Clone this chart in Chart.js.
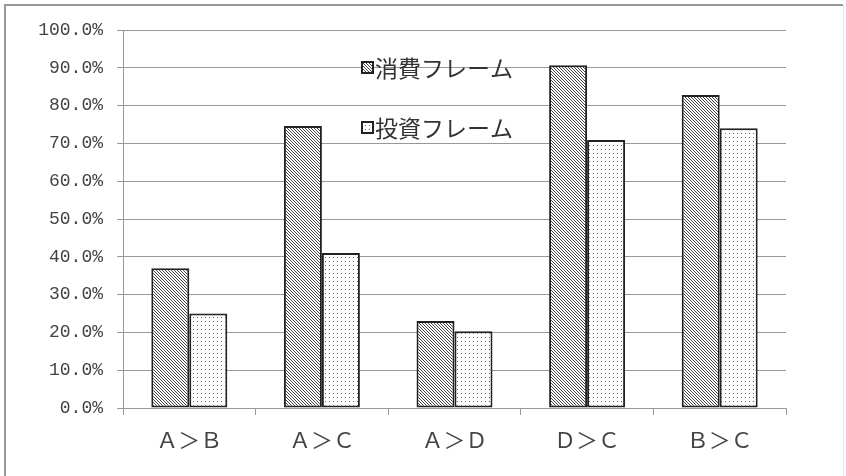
<!DOCTYPE html>
<html>
<head>
<meta charset="utf-8">
<script src="https://cdn.jsdelivr.net/npm/chart.js@4"></script>
<style>
  html, body { margin: 0; padding: 0; background: #fff; }
  #wrap { width: 846px; height: 476px; position: relative; }
</style>
</head>
<body>
<div id="wrap"><canvas id="grafico" width="846" height="476"></canvas></div>
<script>
const categorias = ["Ａ＞Ｂ", "Ａ＞Ｃ", "Ａ＞Ｄ", "Ｄ＞Ｃ", "Ｂ＞Ｃ"];
const nomesSeries = ["消費フレーム", "投資フレーム"];
const consumo = [37.0, 74.6, 23.0, 90.7, 82.8];
const investimento = [25.0, 41.0, 20.3, 70.9, 74.0];

function padraoHachura() {
    const c = document.createElement("canvas");
    c.width = 6; c.height = 6;
    const g = c.getContext("2d");
    g.fillStyle = "#fff";
    g.fillRect(0, 0, 6, 6);
    g.fillStyle = "#444";
    for (let y = 0; y < 6; y++) {
        for (let x = 0; x < 6; x++) {
            if ((x - y + 6) % 3 === 0) g.fillRect(x, y, 1, 1);
        }
    }
    return g.createPattern(c, "repeat");
}

function padraoPontos() {
    const c = document.createElement("canvas");
    c.width = 4; c.height = 4;
    const g = c.getContext("2d");
    g.fillStyle = "#fff";
    g.fillRect(0, 0, 4, 4);
    g.fillStyle = "#666";
    g.fillRect(1, 1, 1, 1);
    return g.createPattern(c, "repeat");
}

const hachura = padraoHachura();
const pontos = padraoPontos();

// moldura e legenda dentro da área do gráfico
const molduraPlugin = {
    id: 'moldura',
    beforeDraw(chart) {
        const { ctx } = chart;
        ctx.save();
        ctx.fillStyle = '#fff';
        ctx.fillRect(0, 0, chart.width, chart.height);
        ctx.strokeStyle = '#999';
        ctx.lineWidth = 2;
        ctx.beginPath();
        ctx.moveTo(5, 480);
        ctx.lineTo(5, 5);
        ctx.lineTo(843, 5);
        ctx.stroke();
        ctx.strokeStyle = '#e4e4e4';
        ctx.lineWidth = 1;
        ctx.beginPath();
        ctx.moveTo(843.5, 5);
        ctx.lineTo(843.5, 480);
        ctx.stroke();
        ctx.restore();
    }
};

const legendaPlugin = {
    id: 'legendaInterna',
    afterDraw(chart) {
        const { ctx } = chart;
        ctx.save();
        ctx.font = '23px "Noto Sans CJK JP"';
        ctx.textBaseline = 'middle';
        chart.data.datasets.forEach((ds, i) => {
            const y = 68 + i * 60;
            ctx.fillStyle = ds.backgroundColor;
            ctx.fillRect(362, y - 6, 11, 11);
            ctx.strokeStyle = '#222';
            ctx.lineWidth = 2;
            ctx.strokeRect(362, y - 6, 11, 11);
            ctx.fillStyle = '#333';
            ctx.fillText(ds.label, 375, y);
        });
        ctx.restore();
    }
};

new Chart(document.getElementById("grafico"), {
    type: "bar",
    data: {
        labels: categorias,
        datasets: [
            {
                label: nomesSeries[0],
                data: consumo,
                backgroundColor: hachura,
                borderColor: "#222",
                borderWidth: 2,
                borderSkipped: false
            },
            {
                label: nomesSeries[1],
                data: investimento,
                backgroundColor: pontos,
                borderColor: "#222",
                borderWidth: 2,
                borderSkipped: false
            }
        ]
    },
    options: {
        responsive: false,
        animation: false,
        layout: { padding: { top: 30, right: 60, left: 0, bottom: 0 } },
        datasets: { bar: { categoryPercentage: 0.573, barPercentage: 1.0 } },
        scales: {
            x: {
                afterFit(scale) { scale.height = 68; },
                grid: {
                    offset: true,
                    drawOnChartArea: false,
                    drawTicks: true,
                    tickLength: 7,
                    color: "#999"
                },
                border: { color: "#999", width: 1 },
                ticks: {
                    color: "#444",
                    padding: 11,
                    font: { family: '"Noto Sans CJK JP"', size: 22 }
                }
            },
            y: {
                min: 0,
                max: 100,
                afterFit(scale) { scale.width = 123; },
                grid: {
                    color: "#999",
                    tickLength: 6
                },
                border: { color: "#999", width: 1 },
                ticks: {
                    stepSize: 10,
                    color: "#444",
                    padding: 14,
                    font: { family: '"Liberation Mono"', size: 18 },
                    callback: v => v.toFixed(1) + "%"
                }
            }
        },
        plugins: {
            legend: { display: false },
            tooltip: { enabled: false }
        }
    },
    plugins: [molduraPlugin, legendaPlugin]
});
</script>
</body>
</html>
